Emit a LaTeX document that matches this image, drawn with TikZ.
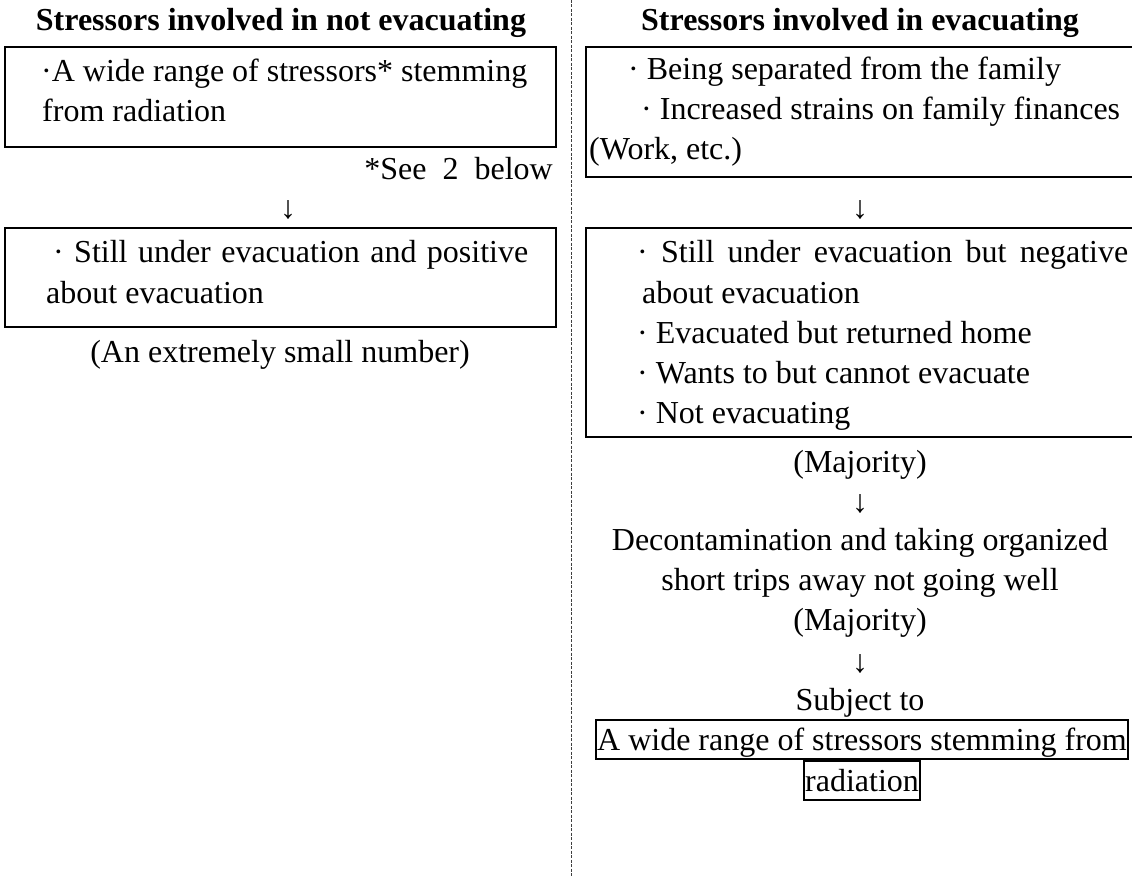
\documentclass[tikz,border=0pt]{standalone}
\usepackage{fontspec}
\setmainfont{Liberation Serif}

\tikzset{
  txt/.style={inner sep=0pt, anchor=base west},
  mid/.style={inner sep=0pt, anchor=base},
  head/.style={mid, font=\fontsize{32}{40}\selectfont\bfseries},
  frame/.style={line width=1.6pt},
  charbox/.style={draw, line width=1.6pt, inner xsep=1pt, inner ysep=1pt,
    text height=29pt, text depth=8pt, anchor=base},
}

\begin{document}
\begin{tikzpicture}[x=1pt, y=-1pt, font=\fontsize{32}{40}\selectfont]
    \useasboundingbox (0,0) rectangle (1132,877);
    \begin{scope} % Divider
        \draw[dash pattern=on 3pt off 1.5pt, line width=0.8pt, black!75]
            (571,0) -- (571,877);
    \end{scope}
    \begin{scope} % Not evacuating
        \node[head] (ltitle) at (281,31) {Stressors involved in not evacuating};
        \draw[frame] (5,47) rectangle (556,147);
        \node[txt] (lrad1) at (41,82) {·A wide range of stressors* stemming};
        \node[txt] (lrad2) at (42,122) {from radiation};
        \node[mid, anchor=base east] (lnote) at (553,180) {*See~ 2~ below};
        \node[mid] (ldown) at (288,219) {↓};
        \draw[frame] (5,228) rectangle (556,327);
        \node[txt] (lpos1) at (53,263)
            {\makebox[475pt][s]{· Still under evacuation and positive}};
        \node[txt] (lpos2) at (46,303) {about evacuation};
        \node[mid] (lsmall) at (280,362) {(An extremely small number)};
    \end{scope}
    \begin{scope} % Evacuating
        \node[head] (rtitle) at (860,31) {Stressors involved in evacuating};
        \draw[frame] (1132,47) -| (586,177) -- (1132,177);
        \node[txt] (rfam1) at (628,80) {· Being separated from the family};
        \node[txt] (rfam2) at (641,120) {· Increased strains on family finances};
        \node[txt] (rfam3) at (589,160) {(Work, etc.)};
        \node[mid] (rdown1) at (860,219) {↓};
        \draw[frame] (1132,228) -| (586,437) -- (1132,437);
        \node[txt] (rneg0) at (637,263)
            {\makebox[491pt][s]{· Still under evacuation but negative}};
        \node[txt] (rneg1) at (642,303) {about evacuation};
        \foreach \item [count=\i from 2] in
            {Evacuated but returned home, Wants to but cannot evacuate, Not evacuating}
            \node[txt] (rneg\i) at (637,263+40*\i) {· \item};
        \node[mid] (rmaj1) at (860,472) {(Majority)};
        \node[mid] (rdown2) at (860,512) {↓};
        \node[mid] (rdec1) at (860,550) {Decontamination and taking organized};
        \node[mid] (rdec2) at (860,590) {short trips away not going well};
        \node[mid] (rmaj2) at (860,630) {(Majority)};
        \node[mid] (rdown3) at (860,672) {↓};
        \node[mid] (rsubj) at (860,710) {Subject to};
        \node[charbox] (rrad1) at (862,750) {A wide range of stressors stemming from};
        \node[charbox] (rrad2) at (862,791) {radiation};
    \end{scope}
\end{tikzpicture}
\end{document}
